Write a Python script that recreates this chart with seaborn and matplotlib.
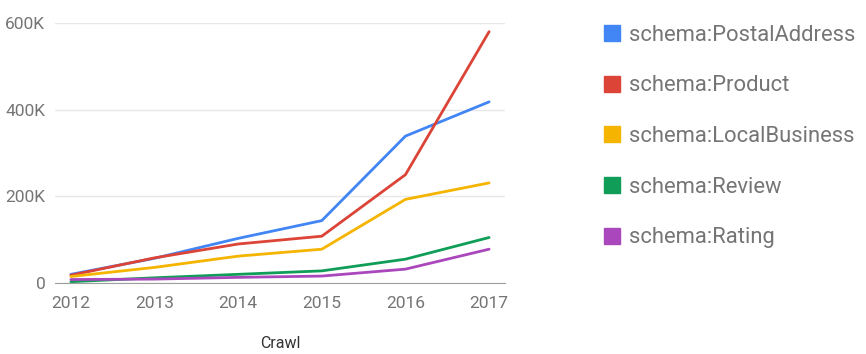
import matplotlib
matplotlib.use("Agg")
import matplotlib.pyplot as plt
from matplotlib.lines import Line2D
from matplotlib.ticker import FuncFormatter
import seaborn as sns
import pandas as pd

years = [2012, 2013, 2014, 2015, 2016, 2017]
series_names = ["schema:PostalAddress", "schema:Product", "schema:LocalBusiness",
                "schema:Review", "schema:Rating"]
postal_address = [20000, 57000, 103000, 144000, 339000, 418000]
product = [18000, 58000, 90000, 108000, 250000, 580000]
local_business = [15000, 36000, 62000, 78000, 193000, 231000]
review = [3000, 12000, 20000, 28000, 55000, 105000]
rating = [8000, 9000, 13000, 16000, 32000, 78000]
colors = ["#4285F4", "#DB4437", "#F4B400", "#0F9D58", "#AB47BC"]

values = [postal_address, product, local_business, review, rating]
rows = []
for name, vals in zip(series_names, values):
    for y, v in zip(years, vals):
        rows.append({"Crawl": y, "value": v, "series": name})
df = pd.DataFrame(rows)

sns.set_style("white")
plt.rcParams["font.family"] = ["Roboto", "DejaVu Sans"]

fig = plt.figure(figsize=(8.66, 3.54), dpi=100)
ax = fig.add_axes([55/866, 71/354, 450/866, 260/354])

sns.lineplot(data=df, x="Crawl", y="value", hue="series", hue_order=series_names,
             palette=colors, linewidth=2, ax=ax, legend=False)

ax.set_xlim(2011.81, 2017.19)
ax.set_ylim(0, 600000)
ax.set_yticks([0, 200000, 400000, 600000])
ax.yaxis.set_major_formatter(FuncFormatter(lambda v, p: "0" if v == 0 else f"{int(v/1000)}K"))
ax.set_xticks(years)
ax.grid(axis="y", color="#e8e8e8", linewidth=1)
ax.set_axisbelow(True)
for s in ["top", "right", "left"]:
    ax.spines[s].set_visible(False)
ax.spines["bottom"].set_color("#9e9e9e")
ax.tick_params(axis="both", length=0, labelsize=12.5, labelcolor="#757575")
ax.tick_params(axis="y", pad=7)
ax.tick_params(axis="x", pad=9)
ax.set_ylabel("")
ax.set_xlabel("Crawl", fontsize=11.5, color="#333333", labelpad=18)

handles = [Line2D([0], [0], marker="s", linestyle="none", markersize=12,
                  markerfacecolor=c, markeredgecolor=c) for c in colors]
fig.legend(handles, series_names, loc="upper left", bbox_to_anchor=(590/866, 1 - 16/354),
           frameon=False, fontsize=15.8, labelcolor="#757575", handletextpad=0.2,
           labelspacing=1.35, borderaxespad=0, handlelength=1.2)

fig.savefig("out.png", dpi=100)
